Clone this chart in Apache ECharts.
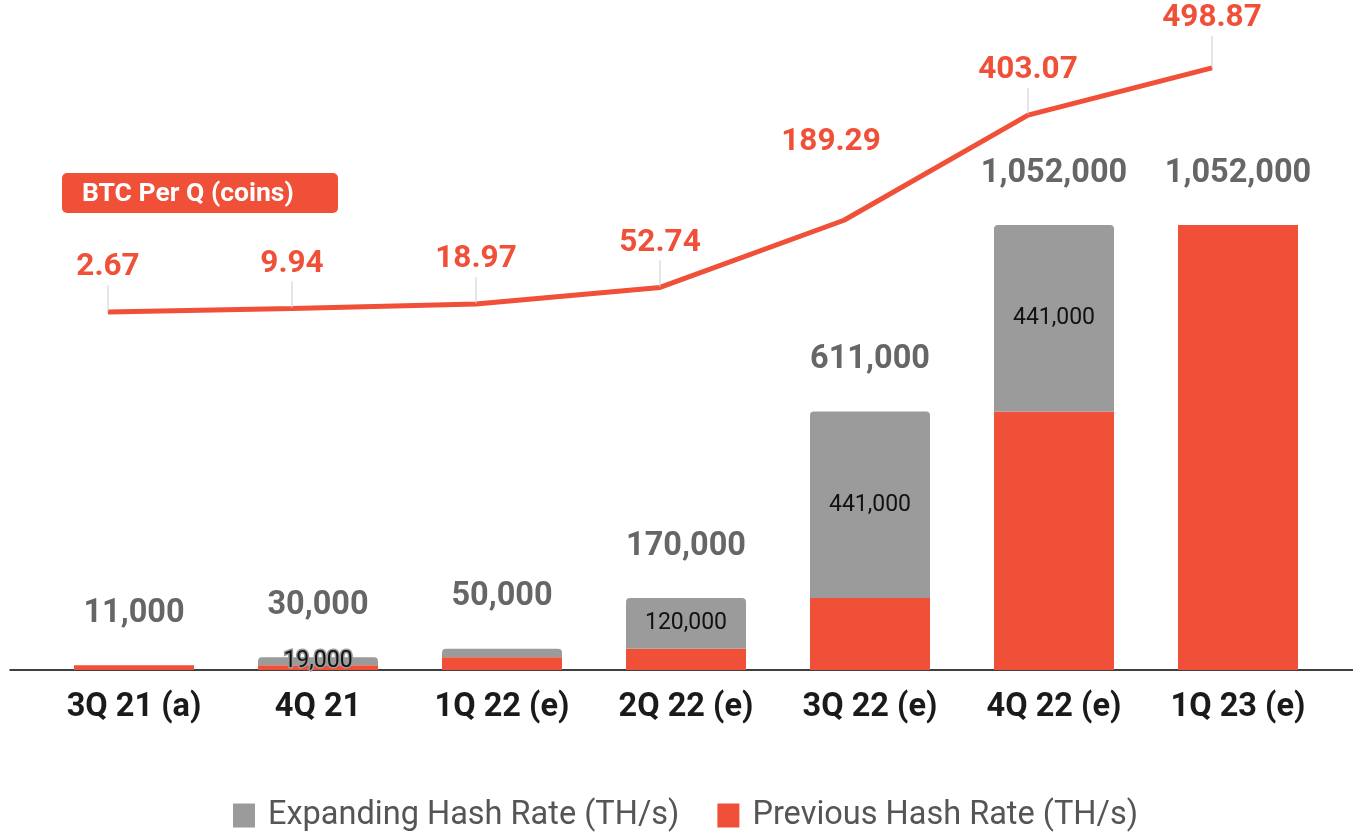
<!DOCTYPE html>
<html><head><meta charset="utf-8">
<script src="https://cdn.jsdelivr.net/npm/echarts@6/dist/echarts.min.js"></script>
<style>html,body{margin:0;padding:0;background:#fff}#c{width:1353px;height:833px}</style>
</head><body><div id="c"></div>
<script>
const categories = ['3Q 21 (a)', '4Q 21', '1Q 22 (e)', '2Q 22 (e)', '3Q 22 (e)', '4Q 22 (e)', '1Q 23 (e)'];
const previousHash = [11000, 11000, 30000, 50000, 170000, 611000, 1052000];
const expandingHash = [0, 19000, 20000, 120000, 441000, 441000, 0];
const expandingLabelShown = [false, true, false, true, true, true, false];
const btcPerQ = [2.67, 9.94, 18.97, 52.74, 189.29, 403.07, 498.87];

const RED = '#F04F38', GRAY = '#9B9B9B';
const totals = previousHash.map((v, i) => v + expandingHash[i]);
const fmt = v => Number(v).toLocaleString('en-US');
const FONT = 'Roboto';

const lineData = btcPerQ.map((v, i) => i === 4 ? { value: v, labelLine: { show: false } } : v);

const chart = echarts.init(document.getElementById('c'));
chart.setOption({
  animation: false,
  textStyle: { fontFamily: FONT },
  grid: [
    { left: 42, right: 23, top: 30, bottom: 163 },
    { left: 16, right: 49, top: 30, bottom: 163 },
    { left: 10, right: 0, top: 30, bottom: 163 }
  ],
  legend: {
    data: ['Expanding Hash Rate (TH/s)', 'Previous Hash Rate (TH/s)'],
    left: 228, top: 794,
    icon: 'rect', itemWidth: 22, itemHeight: 24, itemGap: 38,
    textStyle: { fontFamily: FONT, fontSize: 32.5, color: '#555', padding: [0, 0, 0, 8] }
  },
  graphic: [{
    type: 'group', left: 62, top: 173,
    children: [
      { type: 'rect', shape: { x: 0, y: 0, width: 276, height: 40, r: 5 }, style: { fill: RED } },
      { type: 'text', style: { x: 20, y: 21, text: 'BTC Per Q (coins)', fill: '#fff', font: 'bold 26.5px Roboto', verticalAlign: 'middle' } }
    ]
  }],
  xAxis: [
    { type: 'category', gridIndex: 0, data: categories,
      axisLine: { show: false }, axisTick: { show: false },
      axisLabel: { fontFamily: FONT, fontSize: 32.5, fontWeight: 'bold', color: '#1a1a1a', margin: 21 } },
    { type: 'category', gridIndex: 1, data: categories, show: false },
    { type: 'value', gridIndex: 2, min: 0, max: 1, axisLine: { show: true, lineStyle: { color: '#000', width: 1.5 } },
      axisTick: { show: false }, axisLabel: { show: false }, splitLine: { show: false } }
  ],
  yAxis: [
    { type: 'value', gridIndex: 0, min: 0, max: 1513000, show: false, splitLine: { show: false } },
    { type: 'value', gridIndex: 1, min: -725, max: 576, show: false, splitLine: { show: false } },
    { type: 'value', gridIndex: 2, min: 0, max: 1, show: false, splitLine: { show: false } }
  ],
  series: [
    { name: 'Previous Hash Rate (TH/s)', type: 'bar', stack: 'h', xAxisIndex: 0, yAxisIndex: 0,
      barWidth: 120, itemStyle: { color: RED }, data: previousHash },
    { name: 'Expanding Hash Rate (TH/s)', type: 'bar', stack: 'h', xAxisIndex: 0, yAxisIndex: 0,
      barWidth: 120, itemStyle: { color: GRAY, borderRadius: [4, 4, 0, 0] },
      label: { show: true, position: 'inside', fontFamily: FONT, fontSize: 23, color: '#111',
        textBorderColor: GRAY, textBorderWidth: 3,
        formatter: p => expandingLabelShown[p.dataIndex] ? fmt(p.value) : '' },
      data: expandingHash },
    { name: 'Total', type: 'scatter', xAxisIndex: 0, yAxisIndex: 0, symbolSize: 0,
      label: { show: true, position: 'top', distance: 35, fontFamily: FONT, fontSize: 32.5, fontWeight: 'bold', color: '#404040',
        formatter: p => fmt(p.value) },
      data: totals },
    { name: 'BTC Per Q (coins)', type: 'line', xAxisIndex: 1, yAxisIndex: 1,
      symbol: 'circle', symbolSize: 1, showSymbol: true,
      lineStyle: { color: RED, width: 5 }, itemStyle: { color: RED },
      label: { show: true, position: 'top', distance: 2, fontFamily: FONT, fontSize: 31.5, fontWeight: 'bold', color: RED,
        textBorderColor: '#fff', textBorderWidth: 3, formatter: p => p.value.toFixed(2) },
      labelLayout: p => p.dataIndex === 4 ? { dx: -13, dy: -60 } : (p.dataIndex === 6 ? { dy: -31 } : { dy: -26 }),
      labelLine: { show: true, lineStyle: { color: '#ccc', width: 1 } },
      data: lineData, z: 5 }
  ]
});
</script></body></html>
